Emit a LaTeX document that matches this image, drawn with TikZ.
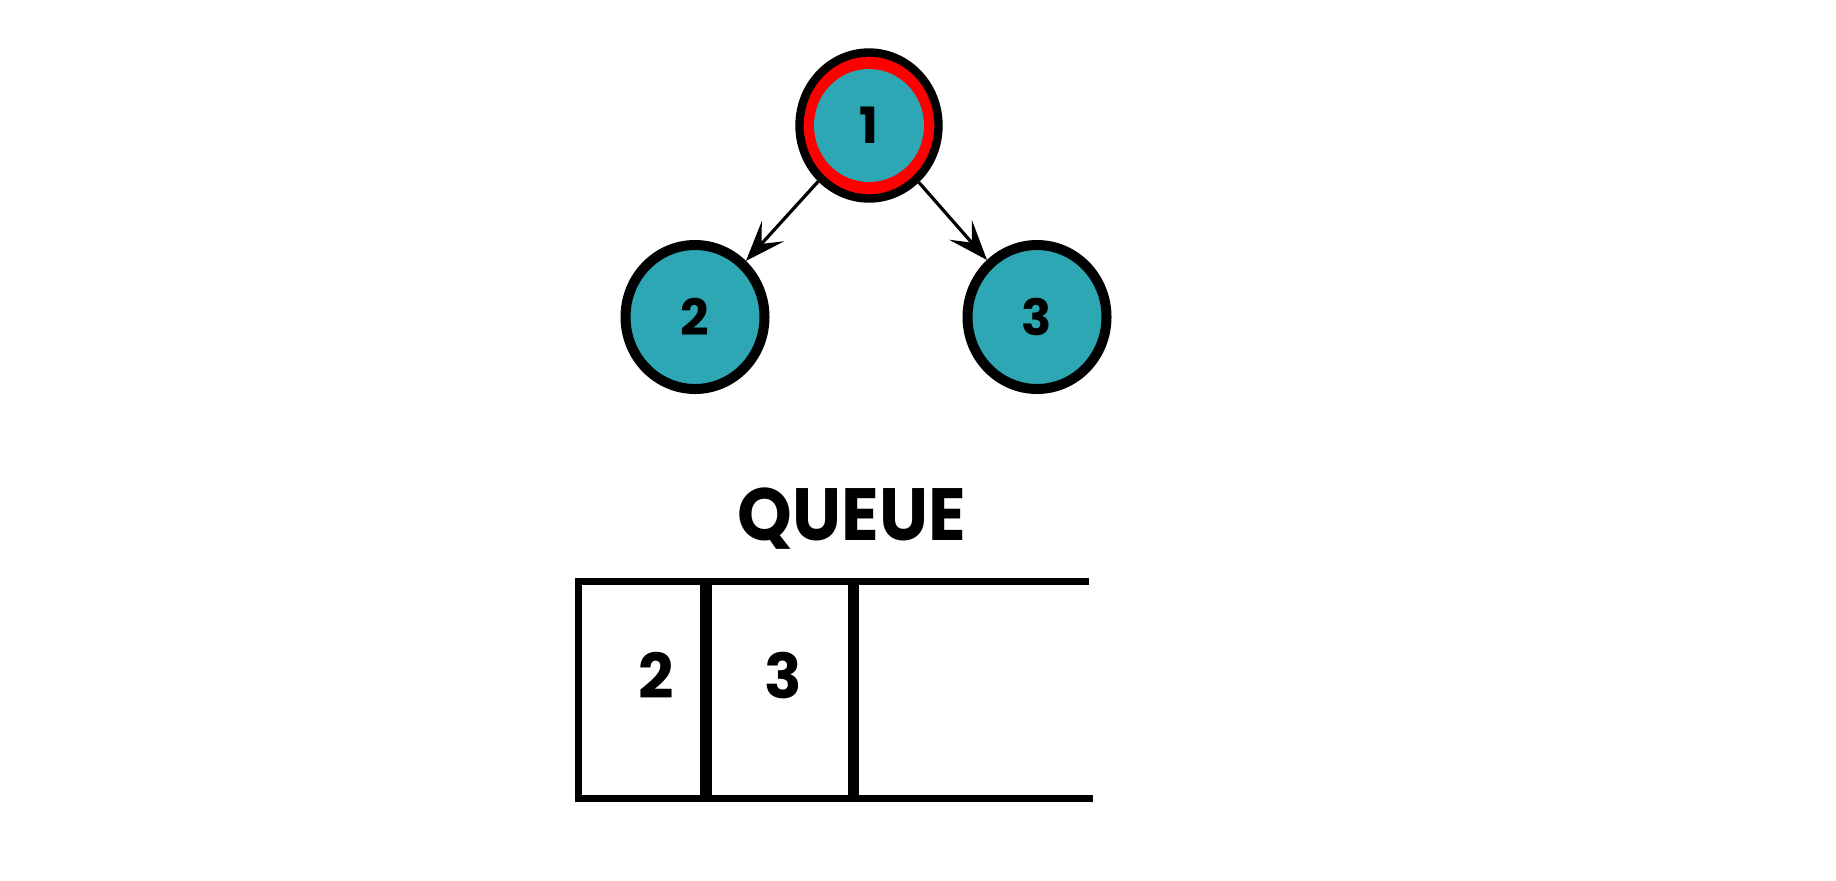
\documentclass[tikz,border=0pt]{standalone}
\usepackage{fontspec}
\setmainfont{Poppins}
\usetikzlibrary{arrows.meta,shapes.geometric}
\definecolor{nodeteal}{RGB}{45,167,180}
\definecolor{ringred}{RGB}{255,0,0}
\begin{document}
\begin{tikzpicture}[x=0.5pt,y=-0.5pt,
  treenode/.style={ellipse, draw=black, line width=5pt, fill=nodeteal,
    minimum width=69.5pt, minimum height=72pt, inner sep=0pt,
    font=\bfseries\fontsize{25}{25}\selectfont},
  innernode/.style={ellipse, fill=nodeteal, minimum width=55pt, minimum height=56.5pt,
    inner sep=0pt, font=\bfseries\fontsize{25}{25}\selectfont},
  edge/.style={line width=1.6pt, -{Stealth[length=20pt,width=15pt,inset=8.5pt]}},
  qline/.style={line width=3.5pt, line join=miter},
  qdiv/.style={line width=5.75pt},
  qtext/.style={font=\bfseries\fontsize{31}{31}\selectfont, anchor=base},
  qtitle/.style={font=\bfseries\fontsize{37}{37}\selectfont, anchor=base}
]
\useasboundingbox (0,0) rectangle (1836,880);
% tree
\node[treenode, fill=ringred, line width=4.2pt, minimum height=73pt] (n1) at (869,125.5) {};
\node[innernode] (n1c) at (n1.center) {1};
\node[treenode] (n2) at (695,317) {2};
\node[treenode] (n3) at (1037,317) {3};
\draw[edge] (n1) -- (n2);
\draw[edge] (n1) -- (n3);
% queue
\node[qtitle] (title) at (852,540) {\scalebox{0.94}[1]{QUEUE}};
\coordinate (qtl) at (578.5,581.5);
\coordinate (qbl) at (578.5,798.5);
\coordinate (qtr) at (1089,581.5);
\coordinate (qbr) at (1093,798.5);
\coordinate (d1t) at (706,581.5);
\coordinate (d1b) at (706,798.5);
\coordinate (d2t) at (853.5,581.5);
\coordinate (d2b) at (853.5,798.5);
\draw[qline] (qtr) -- (qtl) -- (qbl) -- (qbr);
\draw[qdiv] (d1t) -- (d1b);
\draw[qdiv] (d2t) -- (d2b);
\node[qtext] (c2) at (656,698) {2};
\node[qtext] (c3) at (783,698) {3};
\end{tikzpicture}
\end{document}
